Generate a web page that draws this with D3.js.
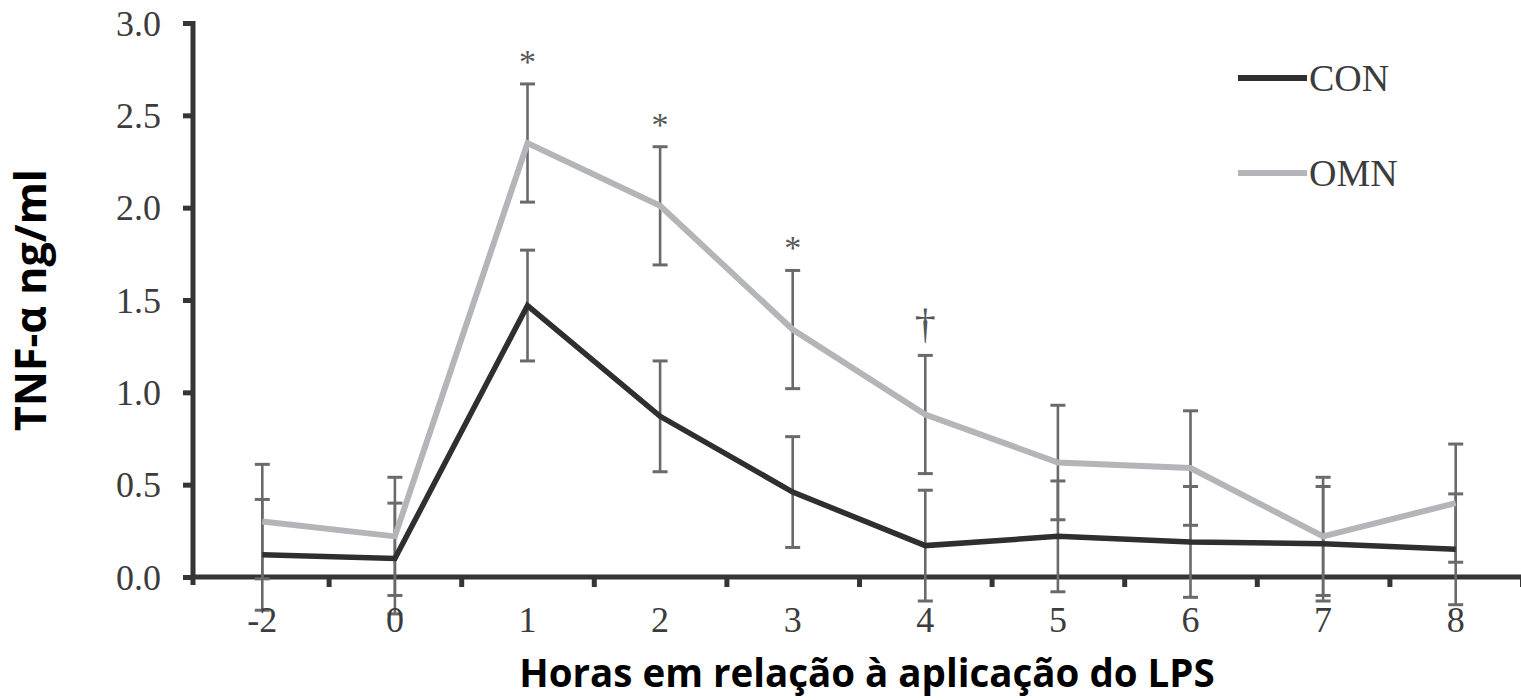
<!DOCTYPE html>
<html>
<head>
<meta charset="utf-8">
<script src="https://cdn.jsdelivr.net/npm/d3@7"></script>
<style>
  html, body { margin: 0; padding: 0; background: #fff; }
  svg { display: block; }
</style>
</head>
<body>
<svg id="chart" width="1521" height="700"></svg>
<script>
// Hours relative to LPS application
const hours = ["-2", "0", "1", "2", "3", "4", "5", "6", "7", "8"];
// TNF-α (ng/ml), mean and standard error per group
const conMean = [0.12, 0.10, 1.47, 0.87, 0.46, 0.17, 0.22, 0.19, 0.18, 0.15];
const conErr  = [0.30, 0.30, 0.30, 0.30, 0.30, 0.30, 0.30, 0.30, 0.31, 0.30];
const omnMean = [0.30, 0.22, 2.35, 2.01, 1.34, 0.88, 0.62, 0.59, 0.22, 0.40];
const omnErr  = [0.31, 0.32, 0.32, 0.32, 0.32, 0.32, 0.31, 0.31, 0.32, 0.32];
// Significance markers between groups
const marks = ["", "", "*", "*", "*", "†", "", "", "", ""];
const yTicks = [0, 0.5, 1.0, 1.5, 2.0, 2.5, 3.0];
const seriesNames = ["CON", "OMN"];

const svg = d3.select("#chart");
const serif = "'Liberation Serif', 'Times New Roman', serif";
const sans = "'Open Sans', 'Noto Sans', sans-serif";
const axisColor = "#353535";
const textColor = "#3c3c3c";
const barColor = "#6a6a6a";
const colors = { CON: "#2f2f31", OMN: "#b4b5b8" };

const x = d3.scaleBand().domain(hours).range([196, 1522]).padding(0);
const cx = h => x(h) + x.bandwidth() / 2;
const y = d3.scaleLinear().domain([0, 3]).range([577, 23]);

// boundaries between hour bands for the x tick marks
const bounds = d3.scaleLinear().domain([0, hours.length]).range(x.range());

// Y axis
const yAxis = svg.append("g").attr("transform", "translate(193,0)")
  .call(d3.axisLeft(y).tickValues(yTicks).tickFormat(d3.format(".1f")).tickSize(10).tickPadding(22));
yAxis.select(".domain").remove();
yAxis.selectAll(".tick line").attr("stroke", axisColor).attr("stroke-width", 5);
yAxis.selectAll(".tick text")
  .attr("font-family", serif).attr("font-size", 36).attr("fill", textColor)
  .attr("dy", "0.34em");
svg.append("line").attr("x1", 193).attr("x2", 193).attr("y1", 21).attr("y2", 585)
  .attr("stroke", axisColor).attr("stroke-width", 5);

// X axis: tick marks at band edges, labels at band centres
const xTickG = svg.append("g").attr("transform", "translate(0,577)")
  .call(d3.axisBottom(bounds).tickValues(d3.range(1, hours.length + 1)).tickFormat("").tickSize(10));
xTickG.select(".domain").remove();
xTickG.selectAll(".tick line").attr("stroke", axisColor).attr("stroke-width", 5);
svg.append("line").attr("x1", 191).attr("x2", 1521).attr("y1", 577).attr("y2", 577)
  .attr("stroke", axisColor).attr("stroke-width", 5);

// Error bars
const barData = [];
hours.forEach((h, i) => {
  barData.push({ h, lo: conMean[i] - conErr[i], hi: conMean[i] + conErr[i] });
  barData.push({ h, lo: omnMean[i] - omnErr[i], hi: omnMean[i] + omnErr[i] });
});
const eb = svg.append("g").attr("stroke", barColor).attr("fill", "none");
eb.selectAll("line.v").data(barData).join("line").attr("class", "v")
  .attr("x1", d => cx(d.h)).attr("x2", d => cx(d.h))
  .attr("y1", d => y(d.hi)).attr("y2", d => y(d.lo)).attr("stroke-width", 2.6);
eb.selectAll("line.hi").data(barData).join("line").attr("class", "hi")
  .attr("x1", d => cx(d.h) - 7.5).attr("x2", d => cx(d.h) + 7.5)
  .attr("y1", d => y(d.hi)).attr("y2", d => y(d.hi)).attr("stroke-width", 3);
eb.selectAll("line.lo").data(barData).join("line").attr("class", "lo")
  .attr("x1", d => cx(d.h) - 7.5).attr("x2", d => cx(d.h) + 7.5)
  .attr("y1", d => y(d.lo)).attr("y2", d => y(d.lo)).attr("stroke-width", 3);

// X tick labels (drawn over the error bars that extend below the axis)
const xLab = svg.append("g").attr("transform", "translate(0,577)")
  .call(d3.axisBottom(x).tickSize(0).tickPadding(43));
xLab.select(".domain").remove();
xLab.selectAll(".tick text")
  .attr("font-family", serif).attr("font-size", 36).attr("fill", textColor)
  .attr("dy", "0.34em");

// Series lines
const line = d3.line().x((d, i) => cx(hours[i])).y(d => y(d));
svg.append("path").datum(omnMean).attr("d", line)
  .attr("fill", "none").attr("stroke", colors.OMN).attr("stroke-width", 6)
  .attr("stroke-linejoin", "miter");
svg.append("path").datum(conMean).attr("d", line)
  .attr("fill", "none").attr("stroke", colors.CON).attr("stroke-width", 5.5)
  .attr("stroke-linejoin", "miter");

// Significance markers above the OMN error bars
svg.append("g").selectAll("text").data(hours.map((h, i) => ({ h, m: marks[i], top: omnMean[i] + omnErr[i] })).filter(d => d.m))
  .join("text")
  .attr("x", d => cx(d.h)).attr("y", d => y(d.top) - (d.m === "†" ? 17 : 11))
  .attr("text-anchor", "middle").attr("font-family", serif)
  .attr("font-size", d => d.m === "†" ? 42 : 34)
  .attr("fill", "#555").text(d => d.m);

// Legend
const legend = svg.append("g").selectAll("g").data(seriesNames).join("g")
  .attr("transform", (d, i) => `translate(1238,${78 + i * 95})`);
legend.append("line").attr("x1", 0).attr("x2", 69).attr("y1", 0).attr("y2", 0)
  .attr("stroke", d => colors[d]).attr("stroke-width", 6);
legend.append("text").attr("x", 71).attr("y", 0).attr("dy", "0.35em")
  .attr("font-family", serif).attr("font-size", 38).attr("fill", textColor)
  .text(d => d);

// Axis titles
svg.append("text").attr("x", 867).attr("y", 687).attr("text-anchor", "middle")
  .attr("font-family", sans).attr("font-weight", 700).attr("font-size", 38.5)
  .attr("fill", "#000").text("Horas em relação à aplicação do LPS");
svg.append("text").attr("transform", "translate(46,300) rotate(-90)").attr("text-anchor", "middle")
  .attr("font-family", sans).attr("font-weight", 700).attr("font-size", 43)
  .attr("fill", "#000").text("TNF-α ng/ml");
</script>
</body>
</html>
